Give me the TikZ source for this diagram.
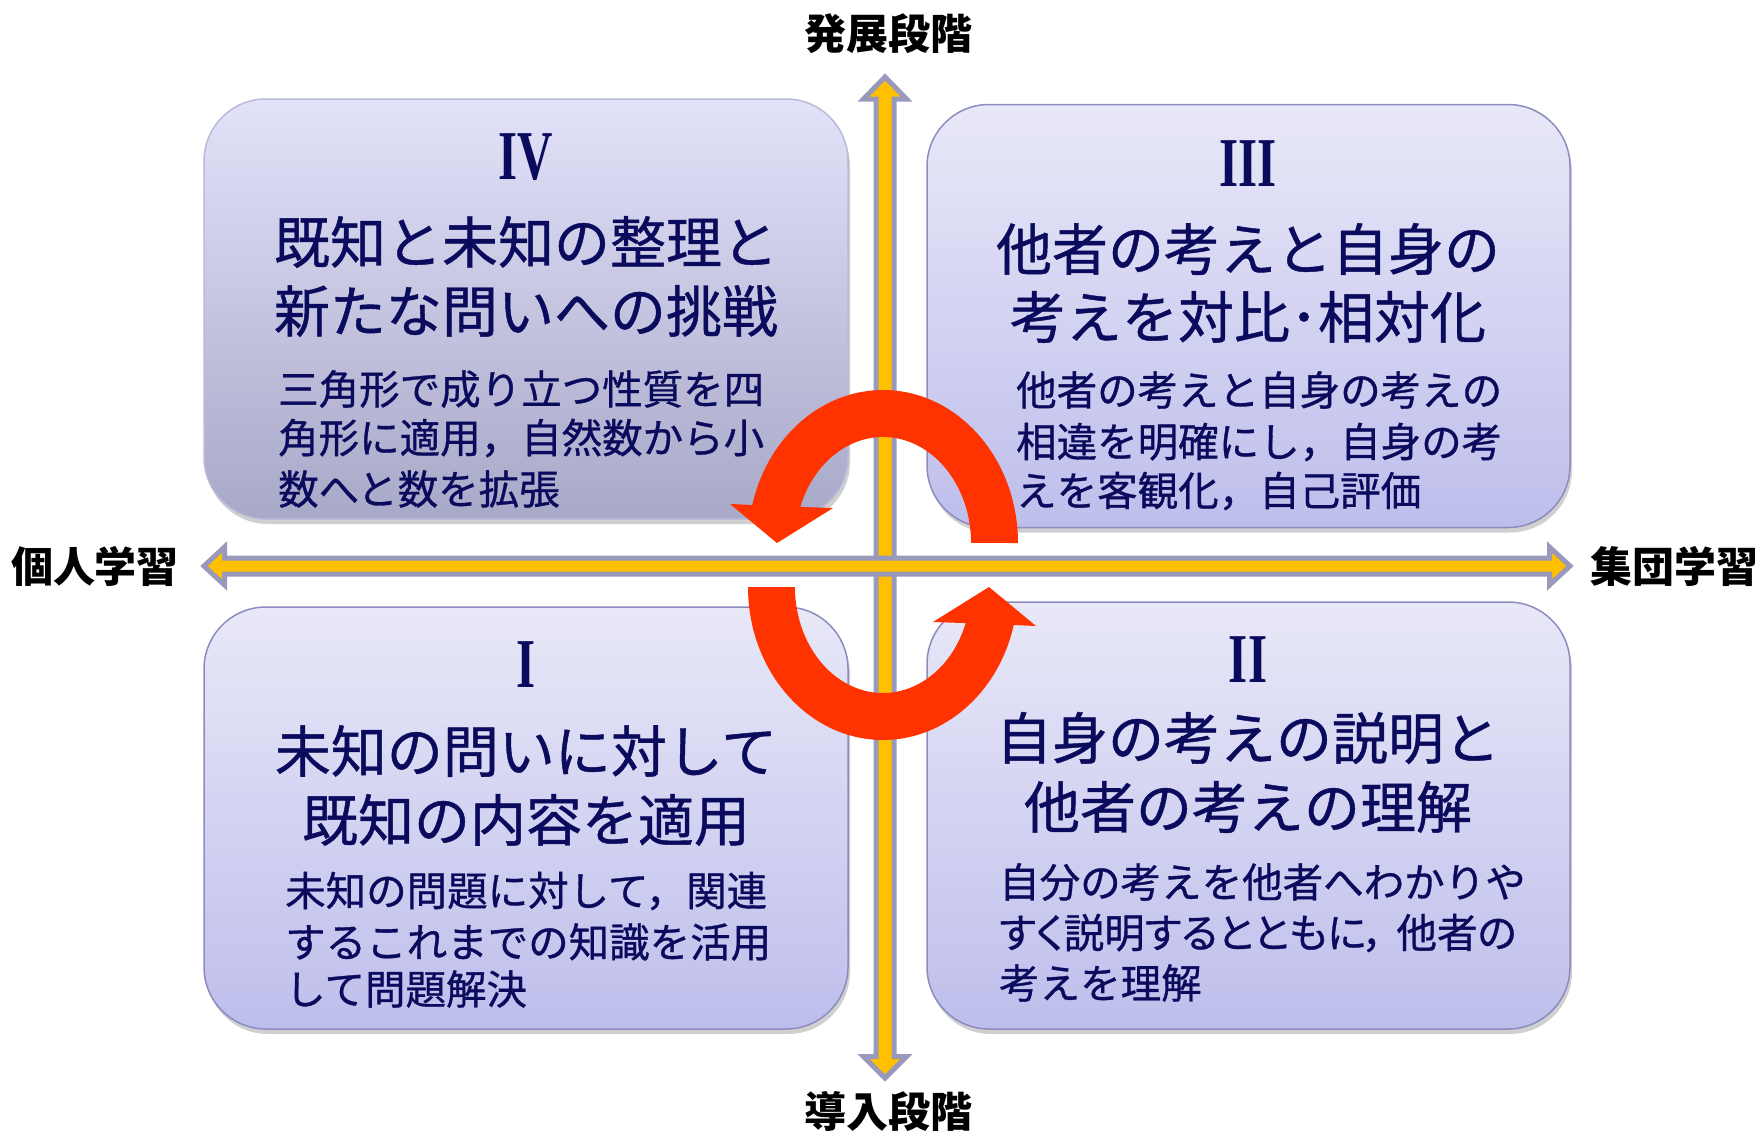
\documentclass[tikz,border=0pt]{standalone}
\usepackage{fontspec}
\newfontfamily\jp{Noto Sans CJK JP}
\newfontfamily\jpm[FakeBold=0.8]{Noto Sans CJK JP}
\newfontfamily\jpp[FakeBold=0.8,RawFeature=+palt]{Noto Sans CJK JP}
\newfontfamily\rmn{Liberation Serif}
\usetikzlibrary{shadows}
\definecolor{navy}{HTML}{0B0B5E}
\definecolor{axisyellow}{HTML}{FFC000}
\definecolor{axisgray}{HTML}{9999BB}
\definecolor{cycred}{HTML}{FF3300}
\definecolor{boxline}{HTML}{8C8CC0}
\definecolor{boxtop}{HTML}{E8E8F8}
\definecolor{boxbot}{HTML}{BEBEEC}
\definecolor{boxIVtop}{HTML}{E2E2FA}
\definecolor{boxIVbot}{HTML}{A8A8C8}
\begin{document}
\begin{tikzpicture}[x=1pt,y=-1pt,
  box/.style={rounded corners=62pt, draw=boxline, line width=1.5pt,
    top color=boxtop, bottom color=boxbot, inner sep=0pt,
    drop shadow={shadow xshift=2pt, shadow yshift=-5pt, opacity=0.3, fill=black!60}},
  num/.style={font=\rmn\bfseries\fontsize{70}{70}\selectfont, text=navy, inner sep=0pt},
  ttl/.style={font=\jpm\fontsize{56}{56}\selectfont, text=navy, inner sep=0pt},
  sub/.style={font=\jpm\fontsize{40.5}{40.5}\selectfont, text=navy, inner sep=0pt, anchor=west},
  lbl/.style={font=\jp\bfseries\fontsize{42}{42}\selectfont, text=black, inner sep=0pt},
  axis/.style={fill=axisyellow, draw=axisgray, line width=5pt, line join=miter},
  cyc/.style={fill=cycred}
]
\useasboundingbox (0,0) rectangle (1762,1132);
\fill[white] (0,0) rectangle (1762,1132);

% boxes
\node[box, top color=boxIVtop, bottom color=boxIVbot, draw=boxline!60, minimum width=644pt, minimum height=420pt] (b4) at (526,309) {};
\node[box, minimum width=643pt, minimum height=423pt] (b3) at (1248.5,316) {};
\node[box, minimum width=644pt, minimum height=422pt] (b1) at (526,818) {};
\node[box, minimum width=643pt, minimum height=427pt] (b2) at (1248.5,815.5) {};

% axes
\draw[axis] (885,77) -- (906.5,99) -- (894,99) -- (894,1056.5) -- (906.5,1056.5) -- (885,1078)
  -- (863.5,1056.5) -- (876,1056.5) -- (876,99) -- (863.5,99) -- cycle;
\draw[axis] (204,566) -- (224.5,547) -- (224.5,558) -- (1549.5,558) -- (1549.5,547) -- (1570,566)
  -- (1549.5,585) -- (1549.5,574) -- (224.5,574) -- (224.5,585) -- cycle;

% axis labels
\node[lbl] (top) at (888,34) {発展段階};
\node[lbl] (bottom) at (888,1112) {導入段階};
\node[lbl] (left) at (95,566) {個人学習};
\node[lbl] (right) at (1674,566) {集団学習};

% box IV
\node[num] (n4) at (526,157) {\scalebox{0.7}[1]{IV}};
\node[ttl] (t4a) at (526,242) {既知と未知の整理と};
\node[ttl] (t4b) at (526,311) {新たな問いへの挑戦};
\node[sub] (s4a) at (278,389) {三角形で成り立つ性質を四};
\node[sub] (s4b) at (278,438) {角形に適用，自然数から小};
\node[sub] (s4c) at (278,489) {数へと数を拡張};

% box III
\node[num] (n3) at (1248,164) {\scalebox{0.7}[1]{III}};
\node[ttl] (t3a) at (1248,249) {他者の考えと自身の};
\node[ttl] (t3b) at (1248,317) {考えを対比･相対化};
\node[sub] (s3a) at (1016,390) {他者の考えと自身の考えの};
\node[sub] (s3b) at (1016,442) {相違を明確にし，自身の考};
\node[sub] (s3c) at (1016,491) {えを客観化，自己評価};

% box I
\node[num] (n1) at (526,665) {\scalebox{0.7}[1]{I}};
\node[ttl] (t1a) at (526,751) {未知の問いに対して};
\node[ttl] (t1b) at (526,820) {既知の内容を適用};
\node[sub] (s1a) at (285,891) {未知の問題に対して，関連};
\node[sub] (s1b) at (285,942) {するこれまでの知識を活用};
\node[sub] (s1c) at (285,989) {して問題解決};

% box II
\node[num] (n2) at (1248,660) {\scalebox{0.7}[1]{II}};
\node[ttl] (t2a) at (1248,738) {自身の考えの説明と};
\node[ttl] (t2b) at (1248,807) {他者の考えの理解};
\node[sub] (s2a) at (999,882) {自分の考えを他者へわかりや};
\node[sub, font=\jpp\fontsize{40.5}{40.5}\selectfont] (s2b) at (999,933) {すく説明するとともに，\hspace{12pt}他者の};
\node[sub] (s2c) at (999,983) {考えを理解};

% cycle arrows
\fill[cyc] (1018,543) arc[start angle=0, end angle=-165.6, x radius=135, y radius=153]
  -- (730,504) -- (777,543) -- (833,508) -- (800.3,506.9)
  arc[start angle=-160.1, end angle=0, x radius=88, y radius=106] -- cycle;
\begin{scope}[rotate around={180:(883,565)}]
\fill[cyc] (1018,543) arc[start angle=0, end angle=-165.6, x radius=135, y radius=153]
  -- (730,504) -- (777,543) -- (833,508) -- (800.3,506.9)
  arc[start angle=-160.1, end angle=0, x radius=88, y radius=106] -- cycle;
\end{scope}
\end{tikzpicture}
\end{document}
